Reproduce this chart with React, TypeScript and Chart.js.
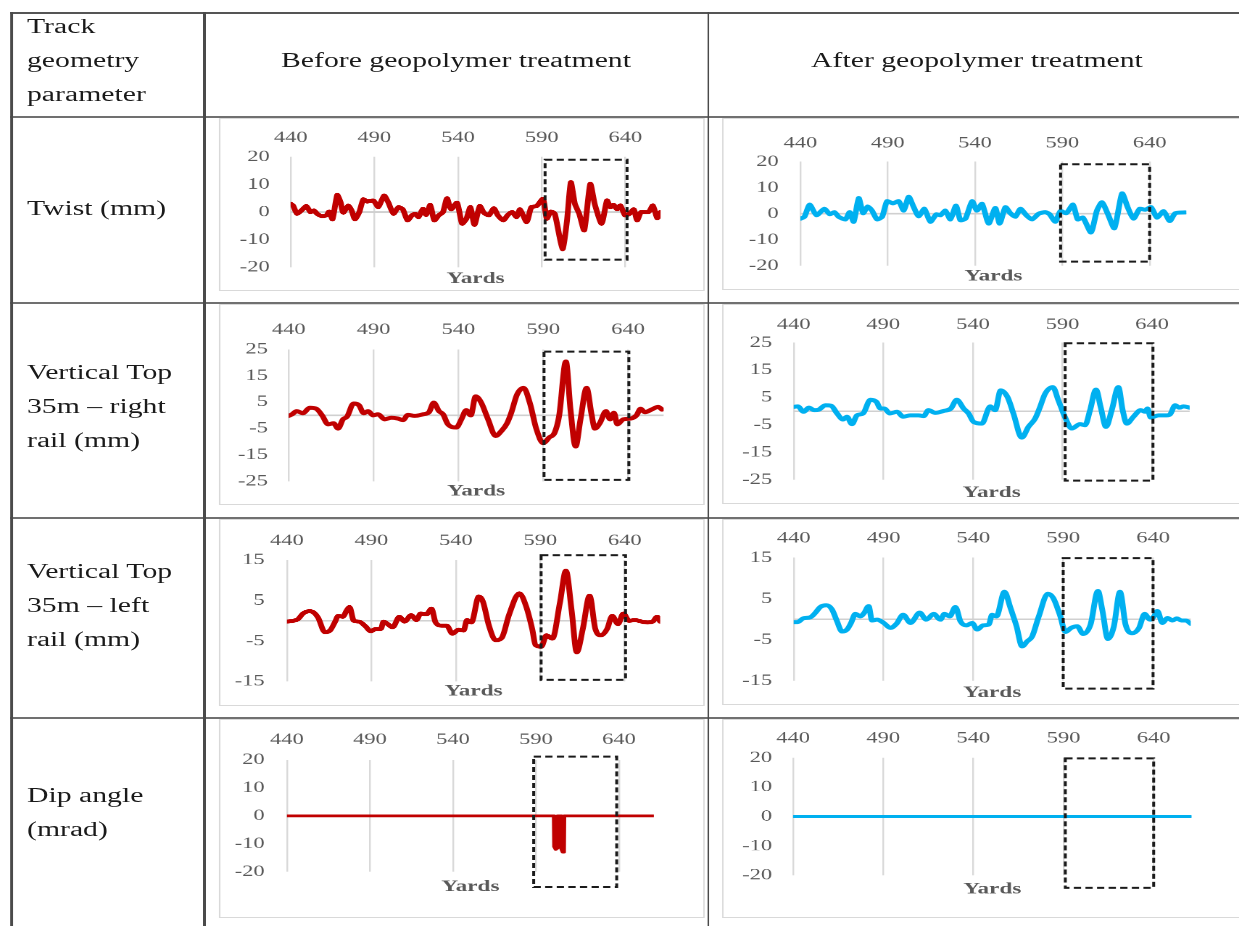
import React, { useEffect, useRef } from "react";
import { Chart, registerables } from "chart.js";
Chart.register(...registerables);

// ---------------- data ----------------
const xTicks = [440, 490, 540, 590, 640];
const xRange = [440, 661];
const yTicksTwist = [-20, -10, 0, 10, 20];
const yTicksRight = [-25, -15, -5, 5, 15, 25];
const yTicksLeft = [-15, -5, 5, 15];
const yTicksDip = [-20, -10, 0, 10, 20];

const headerCols = ["Before geopolymer treatment", "After geopolymer treatment"];
const headerFirst = ["Track", "geometry", "parameter"];
const rowTitles = [
  ["Twist (mm)"],
  ["Vertical Top", "35m \u2013 right", "rail (mm)"],
  ["Vertical Top", "35m \u2013 left", "rail (mm)"],
  ["Dip angle", "(mrad)"],
];
const axisTitle = "Yards";

const twistBeforeX = [440, 441.4, 443.8, 446.4, 449.4, 451.8, 453.8, 455.8, 458.4, 461.4, 463, 465, 467.8, 469.8, 471.4, 474.4, 476.4, 478.4, 481, 483.4, 485.8, 489.4, 492.4, 495.8, 498.4, 501.4, 504.4, 507, 509.8, 512.4, 514.4, 516.4, 519, 521, 523.4, 525.8, 528.4, 531, 533.4, 535.8, 539.4, 542.4, 545, 547.4, 549.8, 553, 555.4, 558.4, 561.4, 563.8, 567, 569.8, 572.4, 575, 577, 581, 583.8, 587, 590.8, 593, 595.4, 597.8, 602.4, 605, 607.4, 609.8, 612.4, 615.4, 619, 621.8, 625.8, 629, 631, 633, 635, 637, 639.8, 642.4, 645, 647, 649.4, 653.8, 656.4, 659, 661];
const twistBeforeY = [3, 2.4, -0.6, 0.6, 2.2, 0, 0.6, -0.6, -1.4, -1.2, 0.2, -2.6, 6.2, 3.6, -0.2, 2.4, 0.6, -2.6, 0, 4.6, 3.8, 4.2, 1.8, 6, 3.4, -0.6, 1.8, 1, -3, -1.2, -0.6, -1.8, 1.2, -1, 2.6, -3, -1.2, 0, 5, 1, 3.4, -4.2, -2.4, 1.8, -4.6, 2.2, -0.2, -1.2, 1.4, -1.2, -3, -1, 0, -1.8, 1, -3.6, 1.8, 2.2, 4.8, -2.4, 0.2, -0.6, -13.4, -3.6, 10.8, 3, -0.6, -6.6, 10.2, 2.6, -4.2, 4.2, 1.8, 2.6, 1, 2.4, -1.2, -0.6, 1, -3, 0, 0, 2.4, -2.2, 0];

const twistAfterX = [440, 442.3, 445.3, 449.2, 453.7, 456.8, 459.5, 461.9, 465.8, 468.2, 470.5, 473.4, 475.9, 478.5, 481, 483.9, 486.8, 489.6, 493, 496.3, 499.2, 502, 504.9, 507.7, 511, 514.4, 517.9, 520.2, 523, 525.9, 529.1, 531.6, 534.5, 538.3, 541.1, 544, 547.8, 551.6, 554.1, 557.4, 560.2, 563.1, 566, 569.4, 572.6, 576.5, 580.3, 582.7, 586, 588.9, 592.3, 596.1, 598.8, 601.8, 606.4, 609.8, 612.7, 616, 619.8, 624.2, 627.4, 630.8, 634.3, 637.5, 640.8, 644.2, 648, 651.5, 654.7, 660.4];
const twistAfterY = [-1.9, -1.2, 3.5, -0.6, 1.9, -0.2, 0.6, -1.2, -2.2, 0.6, -3.1, 6, 0.2, 2.8, 1.2, -2.2, -1.2, 4.8, 4, 4.8, 1.2, 6.5, 2.5, -1, 1.9, -3.1, -0.2, -0.6, 1.2, -2.2, 3.1, -2.5, -1.9, 4.8, 1.2, 3.8, -3.8, 2.2, -3.8, 2.5, 0.2, -1.2, 1.9, -0.6, -2.2, 0, 0.6, -0.2, -3.1, 1, 0.2, 3.5, -2.2, -1.5, -7.2, 1.2, 4.4, 0, -5.6, 7.8, 2.5, -1.9, 1.9, 1.5, 2.5, -1.5, 1, -2.8, 0.2, 0.5];

const vtRightBeforeX = [440, 442, 444.8, 448.4, 452.4, 456.3, 459.9, 463.2, 466.5, 469.1, 472, 474.4, 478.3, 481.5, 484.2, 486.8, 489.8, 492.7, 496.6, 500.5, 504.4, 507.4, 510.3, 514.3, 519.2, 522.7, 525.5, 528.6, 531, 533.9, 538.8, 541.8, 544.7, 547.3, 550.2, 553.5, 557.5, 562, 565.4, 568.7, 571.2, 574.6, 578.5, 582.1, 586, 590, 593.5, 596.8, 599.4, 603.4, 606.1, 609.1, 612, 615.6, 618.5, 620.5, 623.5, 627, 629.4, 631.7, 633.7, 637.2, 641.5, 645, 647.4, 649.9, 653.9, 657.8, 660];
const vtRightBeforeY = [-0.2, 0.4, 1.6, 0.8, 2.9, 2.5, -0.2, -3.4, -3, -5, -1.5, -0.5, 4.5, 3.8, 0.8, 1.6, 0, 0.4, -1.5, -0.9, -1.2, -1.8, 0.2, -0.2, 0.4, 1.2, 4.8, 1.6, 0.4, -3.4, -4.6, -1.5, 2, 0, 7.2, 4.8, -1.5, -7.8, -5.9, -3, 1, 7.9, 10.4, 4.8, -5.2, -10.5, -8.4, -6.5, -0.2, 20.4, 2.2, -11.8, -1.5, 10.4, 0.4, -5, -2.8, 1.6, -1.5, 1, -3.4, -1.5, -1.2, 0, 2.5, 1.2, 2.2, 3.2, 2.2];

const vtRightAfterX = [440, 442.2, 445.6, 448.4, 451.5, 454, 457.7, 460.9, 464.2, 467.5, 469.7, 472.5, 475.3, 478.7, 482.8, 486.2, 488.4, 490.6, 493.6, 497.7, 501, 505, 509.7, 512.5, 515.2, 519, 523.6, 527.7, 531, 534.8, 537.6, 540.4, 545, 549.7, 552.4, 555.5, 559.3, 562.6, 567.3, 571, 574.7, 577.5, 580.3, 584.6, 587.7, 591.5, 595.2, 599.8, 602.6, 605.4, 608.7, 611.3, 614.3, 617.5, 621.2, 623.6, 625.9, 629.6, 633.7, 636.1, 637.4, 639.3, 643.6, 648.2, 650.1, 652.9, 655.3, 657.5, 661];
const vtRightAfterY = [1.6, 1.8, -0.2, 1.3, 0.4, 0.6, 2.2, 2, -0.8, -3, -2, -4.7, -1.5, -0.8, 4.2, 3.4, 1, 1, -0.8, -0.2, -2, -1.5, -1.5, -1.8, 0.4, -0.6, 0.1, 1, 4.2, 1, -0.8, -3.9, -4.5, 1.8, 0.4, 7.6, 5.2, -0.8, -9.6, -5.7, -2.7, 1.6, 6.4, 8.8, 4, -2.3, -6.3, -4.7, -5.1, 0.4, 7.9, 1.6, -5.7, 0.4, 8.8, 0.4, -4.5, -2, 0.4, -0.2, 1, -2.3, -1.5, -1.5, -1.1, 2.2, 1.3, 1.8, 1.3];

const vtLeftBeforeX = [440, 443.6, 446.5, 449.5, 453.4, 456, 458.4, 462.5, 465.5, 468.3, 470.4, 473, 475.4, 477, 479.6, 482.6, 486.6, 489.6, 492.6, 495.6, 497.2, 499.6, 502.6, 506.6, 509.6, 513.6, 516.6, 519.2, 522.6, 525.6, 528, 531.6, 534.6, 538, 541.6, 544.6, 546.6, 549.2, 553.6, 556, 559.6, 563.6, 567.2, 571.6, 577.6, 581.6, 585.2, 587.2, 590.6, 593.6, 597.2, 601.6, 605.2, 608.6, 611.6, 615.2, 619.2, 622.6, 626, 629.6, 632.6, 636, 639.2, 642.6, 646, 650, 653.6, 656.6, 659.2, 661];
const vtLeftBeforeY = [-0.2, 0, 0.4, 1.8, 2.4, 2, 0.8, -2.8, -2.4, -0.4, 1.2, 1, 2.6, 3.4, 0, -0.2, -1.4, -2.6, -2, -2, -0.2, -0.8, -1.6, 1, -0.2, 1.4, 0.2, 1.8, 1.6, 3, -0.4, -1.2, -1.2, -3.2, -2.2, -2.4, 0.2, -0.4, 6, 4.8, -1.2, -4.8, -4.2, 1.6, 6.8, 3.6, -2, -6, -6.4, -3.6, -4.4, 4.4, 12.4, 2.4, -7.8, -2, 6.2, -2, -3.6, -2, 1.2, -0.8, 1.8, 0, 0.2, -0.2, -0.4, -0.2, 1, -0.2];

const vtLeftAfterX = [440, 442.2, 445.2, 449.3, 452.1, 454.8, 458.2, 461.3, 464.1, 466.9, 469.7, 471.9, 474.3, 477.1, 479.3, 481.7, 483.6, 486.4, 490.1, 493.8, 497.2, 500.9, 505, 510.1, 513.8, 517.9, 521.6, 523.9, 526.8, 530, 532.8, 536.1, 539.3, 542.1, 545.4, 548.6, 550.4, 552.8, 557.3, 560.6, 564, 567.1, 569.9, 572.7, 576.4, 581.4, 584.4, 588.1, 591.3, 594.4, 597.8, 601.1, 605.2, 609.3, 611.7, 614.9, 618.2, 621.6, 624.7, 628.4, 632.2, 635.3, 638.3, 640.5, 642.4, 645.2, 648, 650.8, 653.2, 655.8, 658.2, 661];
const vtLeftAfterY = [-0.7, -0.7, 0.2, 0.5, 1.6, 3, 3.4, 2.4, -0.5, -3, -2.5, -0.9, 1.3, 0.7, 1.6, 3.2, -0.3, -0.1, -0.9, -2.1, -1.1, 1.1, -0.9, 1.6, -0.1, 1.3, -0.1, 1.3, 0.7, 3, -0.5, -1.5, -0.9, -2.5, -1.5, -1.3, 1.1, 0.7, 6.7, 2.8, -1.7, -6.6, -5.4, -4.2, 0.7, 6.2, 5.2, 1.1, -3.1, -2.1, -1.7, -3.6, -1.3, 6.9, 2.4, -4.8, -1.7, 6.7, -1.3, -3.4, -2.1, 1.3, -0.1, 0.7, 2, -0.9, 0.3, -0.3, 0.2, -0.3, -0.3, -1.1];

const dipBeforeX = [440, 600.8, 601.0, 601.9, 602.8, 603.0, 605.2, 605.4, 606.1, 606.8, 607.0, 661];
const dipBeforeY = [0, 0, -11, -12, -11.5, 0, 0, -12, -13, -12.5, 0, 0];

const dipAfterX = [440, 661];
const dipAfterY = [0, 0];

// dashed boxes in data units: [xFrom, xTo, yLow, yHigh]
const twistBeforeBox = [592, 641, -17.2, 19];
const twistAfterBox = [589, 640, -18.4, 19];
const vtRightBeforeBox = [590.5, 640.5, -24.4, 24.1];
const vtRightAfterBox = [591.5, 640.5, -25.3, 24.8];
const vtLeftBeforeBox = [590.5, 640.5, -14.6, 16.2];
const vtLeftAfterBox = [590, 640, -16.9, 14.9];
const dipBeforeBox = [588.6, 638.6, -25.5, 21.2];
const dipAfterBox = [591, 640, -24.2, 19.8];

// ---------------- styling / layout ----------------
const S = 1.45; // horizontal stretch of the original figure
const FONT = '"Liberation Serif", "Times New Roman", serif';
const RED = "#C00000";
const BLUE = "#00B0F0";
const TICK_COLOR = "#595959";
const TICK_SIZE = 15.5;
const TITLE_SIZE = 16;

type Geo = {
  frame: number[];
  plotL: number;
  plotT: number;
  plotB: number;
  x640: number;
  xLabelY: number;
  yLabelRight: number;
  titleY: number;
};

type Spec = {
  xs: number[];
  ys: number[];
  color: string;
  yTicks: number[];
  box: number[];
  lineWidth: number;
  curve: "jag" | "smooth" | "straight";
  geo: Geo;
};

const specs: Spec[] = [
  { xs: twistBeforeX, ys: twistBeforeY, color: RED, yTicks: yTicksTwist, box: twistBeforeBox, lineWidth: 4, curve: "jag",
    geo: { frame: [219.3, 118, 705, 290.7], plotL: 291, plotT: 156.7, plotB: 267.7, x640: 625.7, xLabelY: 137.7, yLabelRight: 270, titleY: 279 } },
  { xs: twistAfterX, ys: twistAfterY, color: BLUE, yTicks: yTicksTwist, box: twistAfterBox, lineWidth: 4, curve: "jag",
    geo: { frame: [721.7, 118, 1250, 290], plotL: 800, plotT: 161.7, plotB: 268.3, x640: 1149.3, xLabelY: 143.3, yLabelRight: 778.3, titleY: 279 } },
  { xs: vtRightBeforeX, ys: vtRightBeforeY, color: RED, yTicks: yTicksRight, box: vtRightBeforeBox, lineWidth: 4, curve: "smooth",
    geo: { frame: [219.3, 304, 705, 505], plotL: 289, plotT: 349.3, plotB: 482.7, x640: 628.3, xLabelY: 330, yLabelRight: 268.3, titleY: 492.7 } },
  { xs: vtRightAfterX, ys: vtRightAfterY, color: BLUE, yTicks: yTicksRight, box: vtRightAfterBox, lineWidth: 4, curve: "smooth",
    geo: { frame: [721.7, 304, 1250, 504], plotL: 793.3, plotT: 342.7, plotB: 480, x640: 1151.7, xLabelY: 325, yLabelRight: 771.7, titleY: 493.3 } },
  { xs: vtLeftBeforeX, ys: vtLeftBeforeY, color: RED, yTicks: yTicksLeft, box: vtLeftBeforeBox, lineWidth: 4, curve: "smooth",
    geo: { frame: [219.3, 519, 705, 705.7], plotL: 287.3, plotT: 560, plotB: 683.3, x640: 625, xLabelY: 541, yLabelRight: 265, titleY: 693.3 } },
  { xs: vtLeftAfterX, ys: vtLeftAfterY, color: BLUE, yTicks: yTicksLeft, box: vtLeftAfterBox, lineWidth: 4, curve: "smooth",
    geo: { frame: [721.7, 519, 1250, 705], plotL: 793.3, plotT: 557.7, plotB: 681, x640: 1152.7, xLabelY: 538.3, yLabelRight: 771.7, titleY: 693.3 } },
  { xs: dipBeforeX, ys: dipBeforeY, color: RED, yTicks: yTicksDip, box: dipBeforeBox, lineWidth: 2.8, curve: "straight",
    geo: { frame: [219.3, 719, 705, 918.3], plotL: 287.3, plotT: 760, plotB: 871.7, x640: 619.3, xLabelY: 740, yLabelRight: 265, titleY: 886.7 } },
  { xs: dipAfterX, ys: dipAfterY, color: BLUE, yTicks: yTicksDip, box: dipAfterBox, lineWidth: 2.8, curve: "straight",
    geo: { frame: [721.7, 719, 1250, 917.7], plotL: 792.7, plotT: 757.7, plotB: 875, x640: 1153.3, xLabelY: 738.3, yLabelRight: 771.7, titleY: 889 } },
];

const decorPlugin = {
  id: "decor",
  beforeDatasetsDraw(chart: any) {
    const { ctx, chartArea, scales } = chart;
    const y0 = scales.y.getPixelForValue(0);
    ctx.save();
    ctx.strokeStyle = "#d0d0d0";
    ctx.lineWidth = 1.6;
    ctx.beginPath();
    ctx.moveTo(chartArea.left, y0);
    ctx.lineTo(chartArea.right, y0);
    ctx.stroke();
    ctx.restore();
  },
  afterDatasetsDraw(chart: any, _args: any, opts: any) {
    const b = opts && opts.box;
    if (!b) return;
    const { ctx, scales } = chart;
    const x1 = scales.x.getPixelForValue(b[0]);
    const x2 = scales.x.getPixelForValue(b[1]);
    const yA = scales.y.getPixelForValue(b[3]);
    const yB = scales.y.getPixelForValue(b[2]);
    ctx.save();
    ctx.strokeStyle = "#1a1a1a";
    ctx.lineWidth = 2;
    ctx.setLineDash([5, 3]);
    ctx.strokeRect(x1, yA, x2 - x1, yB - yA);
    ctx.restore();
  },
};

function MiniChart({ spec }: { spec: Spec }) {
  const ref = useRef<HTMLCanvasElement | null>(null);
  const { geo } = spec;
  const [fl, ft, fr, fb] = geo.frame;
  const w = (fr - fl) / S;
  const h = fb - ft;

  useEffect(() => {
    const plotR = geo.plotL + ((geo.x640 - geo.plotL) * (xRange[1] - xRange[0])) / (640 - xRange[0]);
    const yW = (geo.plotL - fl) / S;
    const topH = geo.plotT - ft;
    const botH = fb - geo.plotB;
    const padR = (fr - plotR) / S;
    const xPad = geo.plotT - geo.xLabelY - 0.6 * TICK_SIZE;
    const yPad = (geo.plotL - geo.yLabelRight) / S;
    const titlePadB = fb - geo.titleY - (1.2 * TITLE_SIZE) / 2;
    const yT = spec.yTicks;

    const chart = new Chart(ref.current as HTMLCanvasElement, {
      type: "line",
      data: {
        datasets: [
          {
            data: spec.xs.map((x, i) => ({ x, y: spec.ys[i] })),
            borderColor: spec.color,
            backgroundColor: spec.color,
            borderWidth: spec.lineWidth,
            pointRadius: 0,
            fill: false,
            tension: spec.curve === "jag" ? 0.2 : spec.curve === "smooth" ? 0.4 : 0,
            cubicInterpolationMode: spec.curve === "smooth" ? "monotone" : "default",
            borderJoinStyle: "round",
            borderCapStyle: "round",
          } as any,
        ],
      },
      options: {
        animation: false,
        responsive: true,
        maintainAspectRatio: false,
        devicePixelRatio: 2,
        events: [],
        layout: { padding: { left: 0, top: 0, right: padR, bottom: 0 } },
        plugins: {
          legend: { display: false },
          tooltip: { enabled: false },
          title: { display: false },
          decor: { box: spec.box },
        } as any,
        scales: {
          x: {
            type: "linear",
            position: "top",
            min: xRange[0],
            max: xRange[1],
            afterBuildTicks: (s: any) => {
              s.ticks = xTicks.map((v) => ({ value: v }));
            },
            afterFit: (s: any) => {
              s.height = topH;
            },
            grid: { color: "#d9d9d9", lineWidth: 1.2, drawTicks: false },
            border: { display: false },
            ticks: {
              padding: xPad,
              autoSkip: false,
              maxRotation: 0,
              minRotation: 0,
              color: TICK_COLOR,
              font: { family: FONT, size: TICK_SIZE },
              callback: (v: any) => String(v),
            },
          },
          x2: {
            type: "linear",
            position: "bottom",
            afterFit: (s: any) => {
              s.height = botH;
            },
            grid: { display: false, drawTicks: false },
            border: { display: false },
            ticks: { display: false },
            title: {
              display: true,
              text: axisTitle,
              color: TICK_COLOR,
              font: { family: FONT, size: TITLE_SIZE, weight: "bold" },
              padding: { top: 0, bottom: titlePadB },
            },
          },
          y: {
            type: "linear",
            min: yT[0],
            max: yT[yT.length - 1],
            afterBuildTicks: (s: any) => {
              s.ticks = yT.map((v) => ({ value: v }));
            },
            afterFit: (s: any) => {
              s.width = yW;
            },
            grid: { display: false, drawTicks: false },
            border: { display: false },
            ticks: {
              padding: yPad,
              autoSkip: false,
              color: TICK_COLOR,
              font: { family: FONT, size: TICK_SIZE },
              callback: (v: any) => String(v),
            },
          },
        } as any,
      },
      plugins: [decorPlugin as any],
    });
    return () => chart.destroy();
  }, []);

  return (
    <div
      style={{
        position: "absolute",
        left: fl / S,
        top: ft,
        width: w,
        height: h,
        boxSizing: "border-box",
        border: "1px solid #d9d9d9",
      }}
    >
      <div style={{ position: "absolute", left: -1, top: -1, width: w, height: h }}>
        <canvas ref={ref} />
      </div>
    </div>
  );
}

function TextLines({ lines, left, top, width, center }: { lines: string[]; left: number; top: number; width?: number; center?: boolean }) {
  return (
    <div
      style={{
        position: "absolute",
        left: left / S,
        top,
        width: width ? width / S : undefined,
        textAlign: center ? "center" : "left",
        fontFamily: FONT,
        fontSize: 20.5,
        lineHeight: "34px",
        color: "#1a1a1a",
        whiteSpace: "nowrap",
      }}
    >
      {lines.map((l, i) => (
        <div key={i}>{l}</div>
      ))}
    </div>
  );
}

export default function App() {
  const hLines = [12, 115.5, 301.5, 516.5, 716.5];
  const vLines = [10.5, 203.5, 707.5];
  const rowTextTops = [191, 355, 554, 778];
  return (
    <div style={{ position: "absolute", left: 0, top: 0, width: 1239, height: 926, overflow: "hidden", background: "#fff" }}>
      <div
        style={{
          position: "absolute",
          left: 0,
          top: 0,
          width: 1239 / S,
          height: 926,
          transform: `scaleX(${S})`,
          transformOrigin: "0 0",
        }}
      >
        {hLines.map((y, i) => (
          <div
            key={"h" + i}
            style={{ position: "absolute", left: 10.5 / S, top: y, width: (1260 - 10.5) / S, height: 2, background: i === 0 ? "#555" : "#707070" }}
          />
        ))}
        {vLines.map((x, i) => (
          <div key={"v" + i} style={{ position: "absolute", left: x / S, top: 12, width: 2 / S, height: 926, background: "#4a4a4a" }} />
        ))}
        <TextLines lines={headerFirst} left={27} top={9} />
        <TextLines lines={[headerCols[0]]} left={204} width={504} top={43} center />
        <TextLines lines={[headerCols[1]]} left={708} width={538} top={43} center />
        {rowTitles.map((lines, i) => (
          <TextLines key={"r" + i} lines={lines} left={27} top={rowTextTops[i]} />
        ))}
        {specs.map((sp, i) => (
          <MiniChart key={i} spec={sp} />
        ))}
      </div>
    </div>
  );
}
